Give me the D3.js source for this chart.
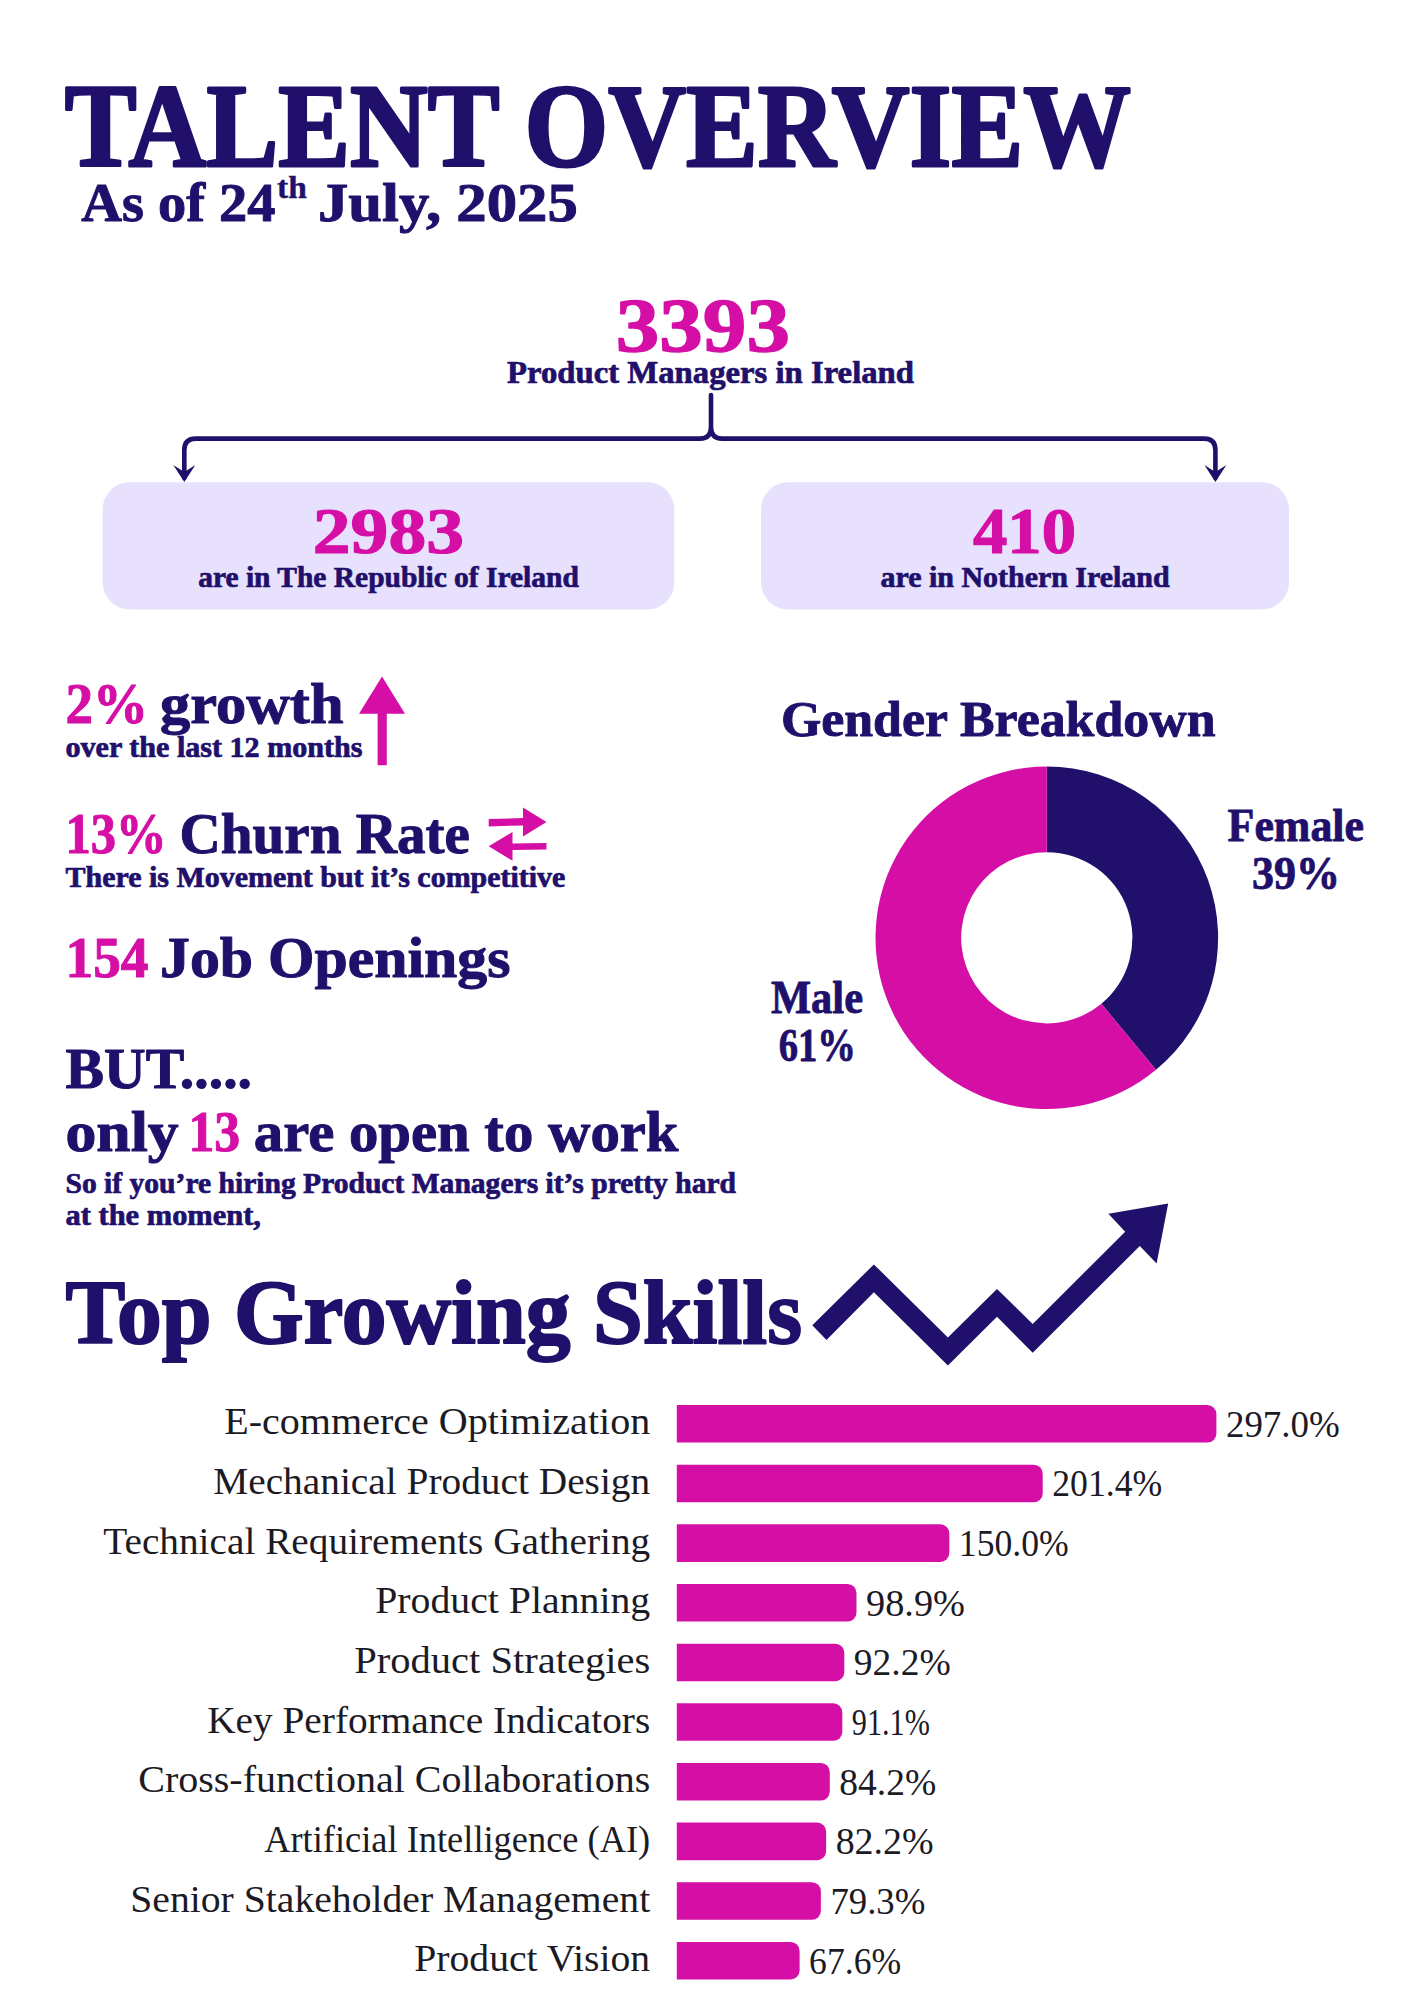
<!DOCTYPE html>
<html><head><meta charset="utf-8">
<script src="https://cdn.jsdelivr.net/npm/d3@7/dist/d3.min.js"></script>
<style>html,body{margin:0;padding:0;background:#fff}svg{display:block}</style>
</head><body><div id="chart"></div>
<script>
const skills = ["E-commerce Optimization","Mechanical Product Design","Technical Requirements Gathering","Product Planning","Product Strategies","Key Performance Indicators","Cross-functional Collaborations","Artificial Intelligence (AI)","Senior Stakeholder Management","Product Vision"];
const skillGrowth = [297.0,201.4,150.0,98.9,92.2,91.1,84.2,82.2,79.3,67.6];
const genderLabels = ["Female","Male"];
const genderShares = [39,61];
const totalManagers = 3393;
const republicCount = 2983;
const northernCount = 410;
// layout only: rendered text widths, in pixels, of the two label columns
const skillLabelWidths = [426,437,547,275,296,443,512,386,520,236];
const growthLabelWidths = [114,110,110,99,97,78,97,98,95,92];

const NAVY="#21106b", PINK="#d50fa6", LILAC="#e8e1fd", INK="#1c1a24";
const SERIF="'Liberation Serif',serif";
const svg=d3.select("#chart").append("svg").attr("width",1414).attr("height",2000).attr("viewBox","0 0 1414 2000");
svg.append("rect").attr("width",1414).attr("height",2000).attr("fill","#fff");

function fit(str,x0,x1,base,size,color,sw){
  return svg.append("text").attr("x",x0).attr("y",base)
    .attr("textLength",x1-x0).attr("lengthAdjust","spacingAndGlyphs")
    .attr("font-family",SERIF).attr("font-weight",700).attr("font-size",size)
    .attr("fill",color).attr("stroke",color).attr("stroke-width",sw==null?size*0.018:sw)
    .attr("stroke-linejoin","round").text(str);
}
// header
fit("TALENT OVERVIEW",64.8,1131,165.5,119,NAVY,3);
fit("As of 24",81.3,275.5,220.8,55,NAVY);
fit("th",277,306.8,197.9,31,NAVY,.4);
fit("July, 2025",318,577.8,220.8,55,NAVY);
// totals
fit(String(totalManagers),615.7,790,350.8,76,PINK);
fit("Product Managers in Ireland",507,914,382.7,32,NAVY,.7);
// connector
svg.append("path").attr("fill","none").attr("stroke",NAVY).attr("stroke-width",4.6).attr("stroke-linejoin","round").attr("stroke-linecap","round")
 .attr("d","M711 395V427Q711 438.6 700 438.6H196Q184.3 438.6 184.3 450V478M711 427Q711 438.6 722 438.6H1204Q1215.4 438.6 1215.4 450V478");
[184.3,1215.4].forEach(x=>svg.append("path").attr("fill",NAVY).attr("d",`M${x-11} 465L${x} 472L${x+11} 465L${x} 482Z`));
// boxes
svg.append("rect").attr("x",102.6).attr("y",482.3).attr("width",571.8).attr("height",127.2).attr("rx",27).attr("fill",LILAC);
svg.append("rect").attr("x",761).attr("y",482.3).attr("width",528).attr("height",127.2).attr("rx",27).attr("fill",LILAC);
fit(String(republicCount),312.8,464,553,65,PINK);
fit("are in The Republic of Ireland",198.2,578.8,587,29,NAVY,.7);
fit(String(northernCount),973,1076,553,65,PINK);
fit("are in Nothern Ireland",880.6,1169.6,587,29,NAVY,.7);
// left stats
fit("2%",65.5,148,722.5,58,PINK);
fit("growth",160,343.5,722.5,58,NAVY);
fit("over the last 12 months",65.5,362.5,757,29,NAVY,.7);
svg.append("path").attr("fill",PINK).attr("d","M382 676.4L405 713.8H386.8V765.2H377.6V713.8H359Z");
fit("13%",65.5,166.5,852.5,58,PINK);
fit("Churn Rate",179.6,469.8,852.5,58,NAVY);
svg.append("path").attr("fill",PINK).attr("d","M488.7 819L523 818V807.4L546.5 822L523 836.6V825.4L488.7 826.4Z");
svg.append("path").attr("fill",PINK).attr("d","M546.5 843L512.5 843.6V832L488.7 846.3L512.5 860.8V850L546.5 849.4Z");
fit("There is Movement but it\u2019s competitive",65.5,565.4,886.5,29,NAVY,.7);
fit("154",65.5,148.5,976.8,58,PINK);
fit("Job Openings",160,510.5,976.8,58,NAVY);
fit("BUT.....",65.5,252,1088,58,NAVY);
fit("only",65.5,178.6,1150.5,58,NAVY);
fit("13",188.5,240.2,1150.5,58,PINK);
fit("are open to work",253.8,678.5,1150.5,58,NAVY);
fit("So if you\u2019re hiring Product Managers it\u2019s pretty hard",65.5,736,1193,29,NAVY,.7);
fit("at the moment,",65.5,261,1224.5,29,NAVY,.7);
// gender donut
fit("Gender Breakdown",780.9,1215.5,735.6,50,NAVY);
const pie=d3.pie().sort(null).startAngle(0).endAngle(2*Math.PI)(genderShares);
const arc=d3.arc().innerRadius(85.6).outerRadius(171.3);
svg.append("g").attr("transform","translate(1046.8,937.8)").selectAll("path").data(pie).join("path")
  .attr("d",arc).attr("fill",(d,i)=>[NAVY,PINK][i]);
fit(genderLabels[0],1227.6,1364,840.5,46,NAVY);
fit(genderShares[0]+"%",1252,1340,889,46,NAVY);
fit(genderLabels[1],771,863,1012.5,46,NAVY);
fit(genderShares[1]+"%",778.7,856,1061.2,46,NAVY);
// section heading
fit("Top Growing Skills",65.5,802,1342.5,90,NAVY,2);
svg.append("path").attr("fill",NAVY).attr("d","M812.3 1325.3L873.9 1264.4L947.9 1337.6L997 1289L1032.7 1323.9L1125.2 1231.8L1108.4 1213.8L1168.2 1203.4L1156.6 1263.4L1139.8 1246L1032.7 1352.7L997 1316.8L947.9 1365.5L873.9 1292.3L826.5 1340Z");
// bars
const x=d3.scaleLinear().domain([0,297]).range([676.8,1216.4]);
const y=d3.scaleBand().domain(skills).range([1394,1990.5]).paddingInner(.3697).paddingOuter(.18485);
const r=9;
function barPath(name,val){
  const p=d3.path(),t=y(name),b=t+y.bandwidth(),x0=x(0),x1=x(val);
  p.moveTo(x0,t);p.lineTo(x1-r,t);p.arcTo(x1,t,x1,t+r,r);p.lineTo(x1,b-r);p.arcTo(x1,b,x1-r,b,r);p.lineTo(x0,b);p.closePath();
  return p.toString();
}
svg.append("g").selectAll("path").data(skills).join("path").attr("d",(d,i)=>barPath(d,skillGrowth[i])).attr("fill",PINK);
const axis=svg.append("g").attr("transform",`translate(${x(0)},0)`).call(d3.axisLeft(y).tickSize(0).tickPadding(26.6));
axis.select(".domain").remove();
axis.selectAll("text").attr("dy","10.6px").attr("font-family",SERIF).attr("font-size",37).attr("font-weight",400).attr("fill",INK)
  .attr("lengthAdjust","spacingAndGlyphs").attr("textLength",(d,i)=>skillLabelWidths[i]);
svg.append("g").selectAll("text").data(skills).join("text")
  .attr("x",(d,i)=>x(skillGrowth[i])+9.5).attr("y",d=>y(d)+y.bandwidth()/2+13)
  .attr("font-family",SERIF).attr("font-size",37).attr("fill",INK)
  .attr("lengthAdjust","spacingAndGlyphs").attr("textLength",(d,i)=>growthLabelWidths[i])
  .text((d,i)=>skillGrowth[i].toFixed(1)+"%");
</script></body></html>
